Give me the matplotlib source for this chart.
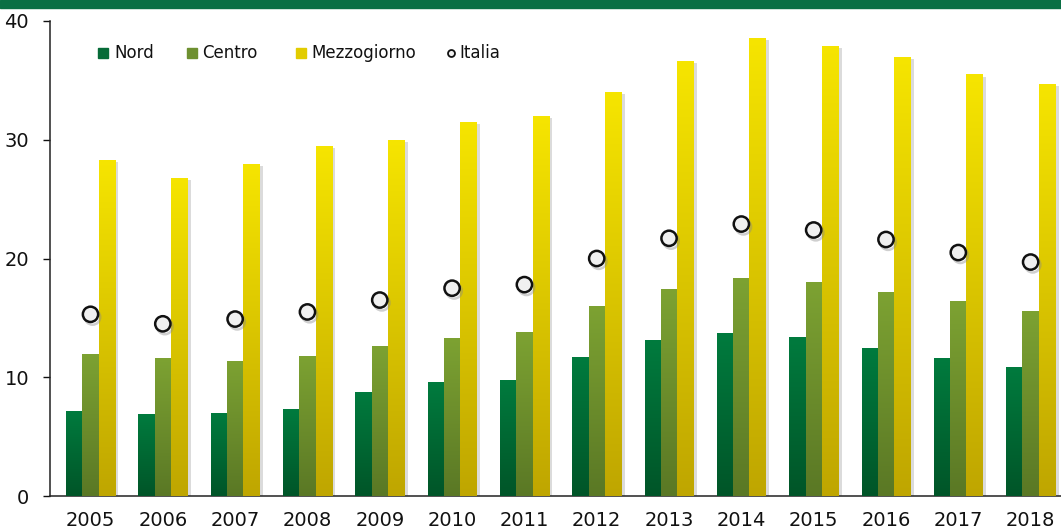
import numpy as np
import matplotlib
matplotlib.use("Agg")
import matplotlib.pyplot as plt
import matplotlib.patheffects as pe
from matplotlib.patches import Rectangle

years = [str(y) for y in range(2005, 2019)]
nord = [7.2, 6.9, 7.0, 7.3, 8.8, 9.6, 9.8, 11.7, 13.1, 13.7, 13.4, 12.5, 11.6, 10.9]
centro = [12.0, 11.6, 11.4, 11.8, 12.6, 13.3, 13.8, 16.0, 17.4, 18.4, 18.0, 17.2, 16.4, 15.6]
mezzogiorno = [28.3, 26.8, 28.0, 29.5, 30.0, 31.5, 32.0, 34.0, 36.6, 38.6, 37.9, 37.0, 35.5, 34.7]
italia = [15.3, 14.5, 14.9, 15.5, 16.5, 17.5, 17.8, 20.0, 21.7, 22.9, 22.4, 21.6, 20.5, 19.7]

series = [
    ("Nord", nord, "#007B3E", "#005528", "#066B38"),
    ("Centro", centro, "#7DA232", "#5A7825", "#6E9030"),
    ("Mezzogiorno", mezzogiorno, "#F6E500", "#BFA600", "#E2CC00"),
]

W, H = 1061, 531
fig = plt.figure(figsize=(W / 100, H / 100), dpi=100)
plt.rcParams["font.family"] = ["DejaVu Sans"]

# axes box in pixels: left 50, right 1061, y=0 at 496, y=40 at 21
ax = fig.add_axes([50 / W, (H - 496) / H, (W - 50) / W, 475 / H])

fig.add_artist(Rectangle((0, 1 - 8 / H), 1, 8 / H, transform=fig.transFigure,
                         color="#0A6F45", zorder=5))


def gradient_fill(ax, bar, top, bottom):
    x0, y0 = bar.get_x(), bar.get_y()
    x1, y1 = x0 + bar.get_width(), y0 + bar.get_height()
    cmap = matplotlib.colors.LinearSegmentedColormap.from_list("g", [bottom, top])
    grad = np.linspace(0, 1, 256).reshape(-1, 1)
    im = ax.imshow(grad, cmap=cmap, extent=[x0, x1, y0, y1], origin="lower",
                   aspect="auto", zorder=3, interpolation="bilinear")
    im.set_clip_path(bar)


x = np.arange(len(years))
width = 0.225
shadow = [pe.SimplePatchShadow(offset=(2.5, -1.5), shadow_rgbFace="#999999", alpha=0.35),
          pe.Normal()]
for i, (name, values, top, bottom, _) in enumerate(series):
    bars = ax.bar(x + (i - 1) * width, values, width, color=bottom, zorder=2,
                  linewidth=0)
    for bar in bars:
        bar.set_path_effects(shadow)
        gradient_fill(ax, bar, top, bottom)

ax.plot(x, italia, linestyle="none", marker="o", markersize=11,
        markerfacecolor="#F0F0F0", markeredgecolor="#111111", markeredgewidth=1.8,
        zorder=6,
        path_effects=[pe.SimpleLineShadow(offset=(1.5, -2), shadow_color="#888888",
                                          alpha=0.4), pe.Normal()])

ax.set_xlim(-0.56, 13.42)
ax.set_ylim(0, 40)
ax.set_yticks([0, 10, 20, 30, 40])
ax.set_xticks(x)
ax.set_xticklabels(years)
ax.tick_params(axis="x", length=0, pad=11, labelsize=14, colors="#111111")
ax.tick_params(axis="y", length=5, width=1, pad=10, labelsize=14, colors="#111111")
for side in ("top", "right"):
    ax.spines[side].set_visible(False)
for side in ("left", "bottom"):
    ax.spines[side].set_color("#222222")
    ax.spines[side].set_linewidth(1.1)

# legend, placed by hand as in the original
ly = 1 - 53 / H
legend_items = [("Nord", 103, 114), ("Centro", 192, 202), ("Mezzogiorno", 301, 311)]
for (label, mx, tx), (_, _, top, bottom, mid) in zip(legend_items, series):
    fig.add_artist(Rectangle(((mx - 5) / W, ly - 5 / H), 10 / W, 10 / H,
                             transform=fig.transFigure, color=mid))
    fig.text(tx / W, ly, label, fontsize=12, va="center", ha="left", color="#111111")
fig.add_artist(matplotlib.lines.Line2D([451 / W], [ly], marker="o", markersize=5,
                                       markerfacecolor="#F0F0F0", markeredgecolor="#111111",
                                       markeredgewidth=1.3, transform=fig.transFigure))
fig.text(459 / W, ly, "Italia", fontsize=12, va="center", ha="left", color="#111111")

fig.savefig("out.png", dpi=100)
